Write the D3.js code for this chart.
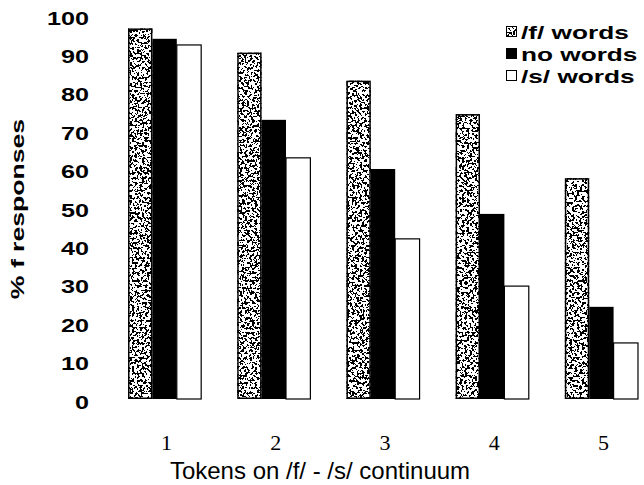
<!DOCTYPE html>
<html>
<head>
<meta charset="utf-8">
<script src="https://cdn.jsdelivr.net/npm/d3@7"></script>
<style>
    body { margin: 0; background: #fff; }
    svg { display: block; }
</style>
</head>
<body>
<div id="chart"></div>
<script>
// data
const categories = ["1", "2", "3", "4", "5"];
const series = ["/f/ words", "no words", "/s/ words"];
const fWords = [96.5, 90.2, 82.9, 74.2, 57.5];
const noWords = [93.8, 72.7, 59.9, 48.2, 24.0];
const sWords = [92.2, 62.8, 41.7, 29.4, 14.6];
const yTicks = [0, 10, 20, 30, 40, 50, 60, 70, 80, 90, 100];

// constants
const WIDTH = 644;
const HEIGHT = 485;
const BOLD_STRETCH = 1.4;
const SANS = "'Liberation Sans', Arial, sans-serif";
const SERIF = "'Liberation Serif', 'Times New Roman', serif";

const values = [fWords, noWords, sWords];
const rows = [];
categories.forEach((c, i) => {
    series.forEach((s, j) => rows.push({ cat: c, series: s, value: values[j][i] }));
});

const svg = d3.select("#chart").append("svg")
    .attr("width", WIDTH)
    .attr("height", HEIGHT);

// speckled fill for the /f/ bars
const defs = svg.append("defs");
const filter = defs.append("filter")
    .attr("id", "stipple")
    .attr("x", 0).attr("y", 0).attr("width", 1).attr("height", 1)
    .attr("color-interpolation-filters", "sRGB");
filter.append("feTurbulence")
    .attr("type", "fractalNoise")
    .attr("baseFrequency", 0.4)
    .attr("numOctaves", 3)
    .attr("seed", 7)
    .attr("result", "noise");
filter.append("feColorMatrix")
    .attr("in", "noise")
    .attr("type", "matrix")
    .attr("values", "1 0 0 0 0  1 0 0 0 0  1 0 0 0 0  0 0 0 0 1")
    .attr("result", "grey");
const ct = filter.append("feComponentTransfer").attr("in", "grey").attr("result", "bw");
["feFuncR", "feFuncG", "feFuncB"].forEach(f => {
    ct.append(f).attr("type", "discrete")
        .attr("tableValues", "1 1 1 1 1 1 1 1 0 0 0 0 0 0 0");
});
filter.append("feComposite")
    .attr("in", "bw")
    .attr("in2", "SourceGraphic")
    .attr("operator", "in");

const fillFor = {
    "/f/ words": "#000",
    "no words": "#000",
    "/s/ words": "#fff"
};

const x = d3.scaleBand()
    .domain(categories)
    .range([110, 656])
    .paddingInner(0.33)
    .paddingOuter(0.165);
const xInner = d3.scaleBand()
    .domain(series)
    .range([0, x.bandwidth()]);
const y = d3.scaleLinear()
    .domain([0, 100])
    .range([399, 15]);

// bars
const bars = svg.append("g").attr("id", "bars");
rows.forEach(d => {
    const bx = x(d.cat) + xInner(d.series);
    const by = y(d.value);
    const bh = y(0) - by;
    if (d.series === "/f/ words") {
        bars.append("rect")
            .attr("x", bx).attr("y", by)
            .attr("width", xInner.bandwidth()).attr("height", bh)
            .attr("fill", "#000")
            .attr("filter", "url(#stipple)");
        bars.append("rect")
            .attr("x", bx + 0.75).attr("y", by + 0.75)
            .attr("width", xInner.bandwidth() - 1.5).attr("height", bh - 1.5)
            .attr("fill", "none")
            .attr("stroke", "#000")
            .attr("stroke-width", 1.5);
    } else {
        bars.append("rect")
            .attr("x", bx).attr("y", by)
            .attr("width", xInner.bandwidth()).attr("height", bh)
            .attr("fill", fillFor[d.series])
            .attr("stroke", "#000")
            .attr("stroke-width", d.series === "no words" ? 0 : 1.2);
    }
});

// y axis (labels only)
const yAxis = svg.append("g")
    .attr("transform", "translate(92,0)")
    .call(d3.axisLeft(y).tickValues(yTicks).tickSize(0).tickPadding(3));
yAxis.select(".domain").remove();
yAxis.selectAll("text")
    .attr("x", -3 / BOLD_STRETCH)
    .attr("dy", "0.5em")
    .attr("transform", `scale(${BOLD_STRETCH},1)`)
    .style("font-family", SANS)
    .style("font-weight", "bold")
    .style("font-size", "18px")
    .style("fill", "#000");

// x axis (labels only)
const xAxis = svg.append("g")
    .attr("transform", "translate(2,399)")
    .call(d3.axisBottom(x).tickSize(0).tickPadding(35));
xAxis.select(".domain").remove();
xAxis.selectAll("text")
    .style("font-family", SERIF)
    .style("font-size", "22px")
    .style("fill", "#000");

// axis titles
svg.append("text")
    .attr("x", 320)
    .attr("y", 479)
    .attr("text-anchor", "middle")
    .style("font-family", SANS)
    .style("font-size", "24px")
    .text("Tokens on /f/ - /s/ continuum");

svg.append("text")
    .attr("transform", `translate(24,209) rotate(-90) scale(${BOLD_STRETCH},1)`)
    .attr("text-anchor", "middle")
    .style("font-family", SANS)
    .style("font-weight", "bold")
    .style("font-size", "19px")
    .text("% f responses");

// legend
const legend = svg.append("g").attr("id", "legend");
series.forEach((s, i) => {
    const ly = 32 + i * 22;
    const item = legend.append("g").attr("transform", `translate(506,${ly})`);
    if (s === "/f/ words") {
        item.append("rect")
            .attr("x", 0).attr("y", -6).attr("width", 11).attr("height", 11)
            .attr("fill", "#000").attr("filter", "url(#stipple)");
        item.append("rect")
            .attr("x", 0.5).attr("y", -5.5).attr("width", 10).attr("height", 10)
            .attr("fill", "none").attr("stroke", "#000");
    } else {
        item.append("rect")
            .attr("x", 0.5).attr("y", -5.5).attr("width", 10).attr("height", 10)
            .attr("fill", fillFor[s]).attr("stroke", "#000");
    }
    item.append("text")
        .attr("transform", `translate(15,0) scale(1.38,1)`)
        .attr("dy", "0.36em")
        .style("font-family", SANS)
        .style("font-weight", "bold")
        .style("font-size", "19px")
        .text(s);
});
</script>
</body>
</html>
